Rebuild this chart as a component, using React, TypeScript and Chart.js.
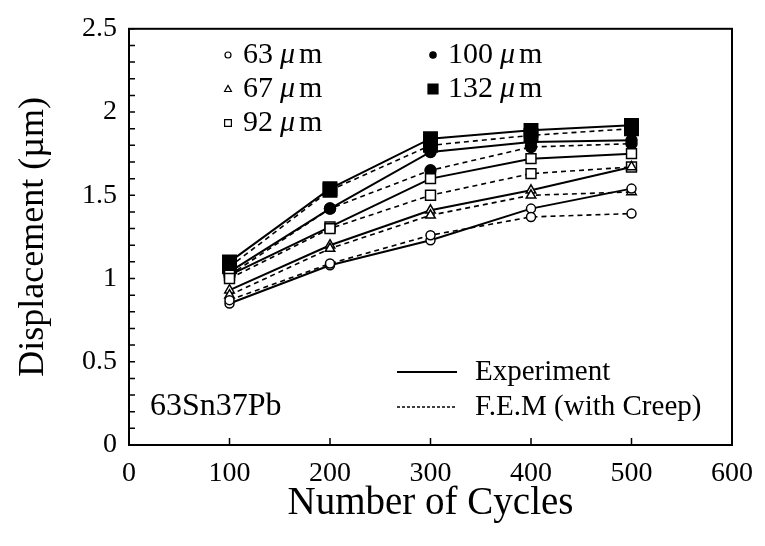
import React, { useEffect, useRef } from "react";
import { Chart, registerables } from "chart.js";

Chart.register(...registerables);

// ---- data ----
const cycles = [100, 200, 300, 400, 500];
const xTicks = [0, 100, 200, 300, 400, 500, 600];
const yTicks = [0, 0.5, 1, 1.5, 2, 2.5];

const sizeLabels = ["63", "67", "92", "100", "132"];
const exp63 = [0.85, 1.08, 1.23, 1.42, 1.54];
const fem63 = [0.87, 1.09, 1.26, 1.37, 1.39];
const exp67 = [0.93, 1.2, 1.41, 1.53, 1.67];
const fem67 = [0.9, 1.18, 1.38, 1.5, 1.52];
const exp92 = [1.02, 1.31, 1.6, 1.72, 1.75];
const fem92 = [1.0, 1.3, 1.5, 1.63, 1.67];
const exp100 = [1.04, 1.42, 1.76, 1.82, 1.83];
const fem100 = [1.02, 1.42, 1.65, 1.79, 1.81];
const exp132 = [1.1, 1.54, 1.84, 1.89, 1.92];
const fem132 = [1.07, 1.53, 1.8, 1.86, 1.9];

const SERIF = '"Liberation Serif", "DejaVu Serif", "Times New Roman", serif';

type Mk = { style: any; radius: number; filled: boolean };
const markers: Mk[] = [
  { style: "circle", radius: 4.5, filled: false },
  { style: "triangle", radius: 5.5, filled: false },
  { style: "rect", radius: 7, filled: false },
  { style: "circle", radius: 5.5, filled: true },
  { style: "rect", radius: 9.5, filled: true },
];

const expSeries = [exp63, exp67, exp92, exp100, exp132];
const femSeries = [fem63, fem67, fem92, fem100, fem132];

function makeDataset(vals: number[], mk: Mk, dashed: boolean, label: string) {
  return {
    label,
    data: cycles.map((c, i) => ({ x: c, y: vals[i] })),
    borderColor: "#000",
    borderWidth: dashed ? 1.6 : 2,
    borderDash: dashed ? [5, 4] : [],
    pointStyle: mk.style,
    pointRadius: mk.radius,
    pointBorderWidth: 1.5,
    pointBackgroundColor: mk.filled ? "#000" : "#fff",
    pointBorderColor: "#000",
    fill: false,
    tension: 0,
  };
}

const framePlugin = {
  id: "framePlugin",
  afterDraw(chart: any) {
    const { ctx, chartArea: a, scales } = chart;
    const xs = scales.x;
    const ys = scales.y;
    ctx.save();
    ctx.strokeStyle = "#000";
    ctx.lineWidth = 2;
    ctx.setLineDash([]);
    ctx.strokeRect(a.left, a.top, a.right - a.left, a.bottom - a.top);
    // inward ticks
    ctx.lineWidth = 1.5;
    ctx.beginPath();
    ys.ticks.forEach((t: any) => {
      const py = ys.getPixelForValue(t.value);
      ctx.moveTo(a.left, py);
      ctx.lineTo(a.left + 6, py);
    });
    xs.ticks.forEach((t: any) => {
      const px = xs.getPixelForValue(t.value);
      ctx.moveTo(px, a.bottom);
      ctx.lineTo(px, a.bottom - 7);
    });
    ctx.stroke();

    // marker legend
    const drawMk = (mk: Mk, x: number, y: number, s: number) => {
      ctx.beginPath();
      if (mk.style === "circle") {
        ctx.arc(x, y, s, 0, Math.PI * 2);
      } else if (mk.style === "triangle") {
        ctx.moveTo(x, y - s);
        ctx.lineTo(x + s * 0.95, y + s * 0.7);
        ctx.lineTo(x - s * 0.95, y + s * 0.7);
        ctx.closePath();
      } else {
        ctx.rect(x - s, y - s, 2 * s, 2 * s);
      }
      ctx.fillStyle = mk.filled ? "#000" : "#fff";
      ctx.fill();
      ctx.lineWidth = 1.2;
      ctx.stroke();
    };
    const legendPos = [
      [228, 55],
      [228, 89],
      [228, 123],
      [433, 55],
      [433, 89],
    ];
    const mkSize = [3, 3.6, 3.4, 3.2, 5];
    ctx.fillStyle = "#000";
    ctx.textBaseline = "middle";
    ctx.textAlign = "left";
    sizeLabels.forEach((lab, i) => {
      const [mx, my] = legendPos[i];
      drawMk(markers[i], mx, my, mkSize[i]);
      ctx.fillStyle = "#000";
      let tx = mx + 15;
      ctx.font = `30px ${SERIF}`;
      ctx.fillText(lab, tx, my);
      tx += ctx.measureText(lab).width + 7;
      ctx.font = `italic 30px ${SERIF}`;
      ctx.fillText("\u03bc", tx, my);
      tx += ctx.measureText("\u03bc").width + 4;
      ctx.font = `30px ${SERIF}`;
      ctx.fillText("m", tx, my);
    });

    // line style legend
    ctx.lineWidth = 2;
    ctx.setLineDash([]);
    ctx.beginPath();
    ctx.moveTo(397, 372);
    ctx.lineTo(457, 372);
    ctx.stroke();
    ctx.lineWidth = 1.4;
    ctx.setLineDash([3, 2]);
    ctx.beginPath();
    ctx.moveTo(397, 407);
    ctx.lineTo(457, 407);
    ctx.stroke();
    ctx.setLineDash([]);
    ctx.font = `29px ${SERIF}`;
    ctx.fillText("Experiment", 475, 372);
    ctx.fillText("F.E.M (with Creep)", 475, 407);
    ctx.font = `32px ${SERIF}`;
    ctx.fillText("63Sn37Pb", 150, 407);
    ctx.restore();
  },
};

export default function App() {
  const ref = useRef<HTMLCanvasElement>(null);
  useEffect(() => {
    if (!ref.current) return;
    const datasets: any[] = [];
    for (let i = 0; i < 5; i++) {
      datasets.push(makeDataset(femSeries[i], markers[i], true, `FEM ${sizeLabels[i]}`));
      datasets.push(makeDataset(expSeries[i], markers[i], false, `Exp ${sizeLabels[i]}`));
    }
    const chart = new Chart(ref.current, {
      type: "line",
      data: { datasets },
      options: {
        animation: false,
        responsive: false,
        maintainAspectRatio: false,
        layout: { padding: { top: 17, right: 25, left: 0, bottom: 0 } },
        plugins: { legend: { display: false }, tooltip: { enabled: false } },
        scales: {
          x: {
            type: "linear",
            min: xTicks[0],
            max: xTicks[xTicks.length - 1],
            afterBuildTicks: (s: any) => {
              s.ticks = xTicks.map((v) => ({ value: v }));
            },
            afterFit: (s: any) => {
              s.height = 101;
            },
            grid: { display: false, drawTicks: false },
            border: { display: false },
            ticks: {
              autoSkip: false,
              maxRotation: 0,
              padding: 12,
              color: "#000",
              font: { family: SERIF, size: 28 },
              callback: (v: any) => String(v),
            },
            title: {
              display: true,
              text: "Number of Cycles",
              color: "#000",
              font: { family: SERIF, size: 39 },
              padding: { top: 0, bottom: 19 },
            },
          },
          y: {
            type: "linear",
            min: yTicks[0],
            max: yTicks[yTicks.length - 1],
            afterBuildTicks: (s: any) => {
              const arr: any[] = [];
              for (let k = 0; k <= 25; k++) arr.push({ value: k / 10 });
              s.ticks = arr;
            },
            afterFit: (s: any) => {
              s.width = 129;
            },
            grid: { display: false, drawTicks: false },
            border: { display: false },
            ticks: {
              autoSkip: false,
              padding: 12,
              color: "#000",
              font: { family: SERIF, size: 28 },
              callback: (v: any) => (yTicks.some((t) => Math.abs(t - v) < 1e-6) ? String(Math.round(v * 10) / 10) : ""),
            },
            title: {
              display: true,
              text: "Displacement (\u00b5m)",
              color: "#000",
              font: { family: SERIF, size: 36 },
              padding: { top: 12, bottom: 0 },
            },
          },
        },
      },
      plugins: [framePlugin],
    });
    return () => chart.destroy();
  }, []);
  return (
    <div style={{ position: "fixed", left: 0, top: 0, width: 765, height: 546, background: "#fff" }}>
      <canvas ref={ref} width={765} height={546} />
    </div>
  );
}
